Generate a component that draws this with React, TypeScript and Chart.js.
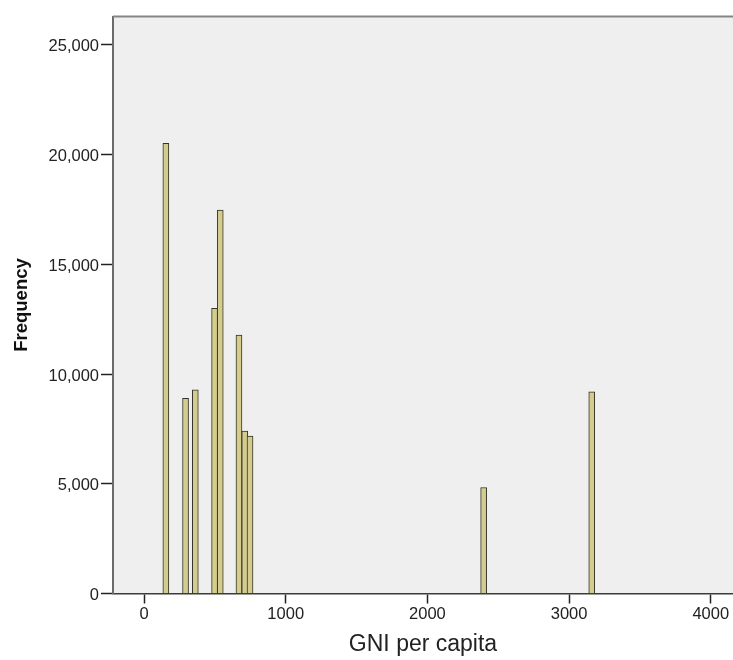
import React, { useEffect, useRef } from "react";
import { Chart, registerables } from "chart.js";

Chart.register(...registerables);

// ---- data ----
const gniCenters = [154, 293, 362, 498, 538, 670, 711, 748, 2397, 3160];
const frequencies = [20510, 8890, 9280, 12990, 17470, 11770, 7400, 7170, 4830, 9190];
const xTickValues = [0, 1000, 2000, 3000, 4000];
const yTickValues = [0, 5000, 10000, 15000, 20000, 25000];
const yTickLabels = ["0", "5,000", "10,000", "15,000", "20,000", "25,000"];
const xTitle = "GNI per capita";
const yTitle = "Frequency";
const xRange = [-219, 4157];
const yRange = [0, 26290];

const FONT = "'Liberation Sans', Arial, sans-serif";

const plotFrame = {
  id: "plotFrame",
  beforeDraw(chart: any) {
    const { ctx, chartArea } = chart;
    ctx.save();
    ctx.fillStyle = "#EFEFEF";
    ctx.fillRect(chartArea.left, chartArea.top, chartArea.right - chartArea.left, chartArea.bottom - chartArea.top);
    ctx.restore();
  },
  afterDraw(chart: any) {
    const { ctx, chartArea } = chart;
    ctx.save();
    ctx.strokeStyle = "#858585";
    ctx.lineWidth = 2;
    ctx.beginPath();
    ctx.moveTo(chartArea.left, chartArea.top);
    ctx.lineTo(chartArea.right, chartArea.top);
    ctx.stroke();
    ctx.restore();
  },
};

export default function App() {
  const canvasRef = useRef<HTMLCanvasElement>(null);

  useEffect(() => {
    if (!canvasRef.current) return;
    const chart = new Chart(canvasRef.current, {
      type: "bar",
      data: {
        datasets: [
          {
            data: gniCenters.map((x, i) => ({ x, y: frequencies[i] })) as any,
            backgroundColor: "#D3CC8E",
            borderColor: "#333328",
            borderWidth: 1,
            barThickness: 6,
            grouped: false,
          } as any,
        ],
      },
      options: {
        animation: false,
        responsive: false,
        devicePixelRatio: 1,
        layout: { padding: { top: 16.5, right: 0, bottom: 0, left: 0 } },
        plugins: { legend: { display: false }, tooltip: { enabled: false } },
        scales: {
          x: {
            type: "linear",
            offset: false,
            min: xRange[0],
            max: xRange[1],
            afterBuildTicks: (axis: any) => {
              axis.ticks = xTickValues.map((v) => ({ value: v }));
            },
            afterFit: (scale: any) => {
              scale.height = 66.5;
            },
            ticks: {
              color: "#222",
              font: { family: FONT, size: 16.5 },
              padding: 1,
              maxRotation: 0,
              callback: (v: any) => String(v),
            },
            grid: {
              display: true,
              offset: false,
              drawOnChartArea: false,
              drawTicks: true,
              tickLength: 10,
              tickColor: "#222",
              tickWidth: 1.5,
            },
            border: { display: true, color: "#3c3c3c", width: 1.5 },
            title: {
              display: true,
              text: xTitle,
              color: "#222",
              font: { family: FONT, size: 23 },
              padding: { top: 0, bottom: 1.2 },
            },
          },
          y: {
            type: "linear",
            min: yRange[0],
            max: yRange[1],
            afterBuildTicks: (axis: any) => {
              axis.ticks = yTickValues.map((v) => ({ value: v }));
            },
            afterFit: (scale: any) => {
              scale.width = 113;
            },
            ticks: {
              color: "#222",
              font: { family: FONT, size: 16.5 },
              padding: 2,
              labelOffset: 2,
              callback: (v: any) => {
                const i = yTickValues.indexOf(Number(v));
                return i >= 0 ? yTickLabels[i] : "";
              },
            },
            grid: {
              display: true,
              drawOnChartArea: false,
              drawTicks: true,
              tickLength: 12,
              tickColor: "#222",
              tickWidth: 1.5,
            },
            border: { display: true, color: "#6b6b6b", width: 2 },
            title: {
              display: true,
              text: yTitle,
              color: "#111",
              font: { family: FONT, size: 18.5, weight: "bold" },
              padding: { top: 10.5, bottom: 0 },
            },
          },
        },
      },
      plugins: [plotFrame],
    });
    return () => chart.destroy();
  }, []);

  return (
    <div style={{ position: "fixed", left: 0, top: 0, width: 733, height: 660, background: "#fff" }}>
      <canvas ref={canvasRef} width={733} height={660} style={{ display: "block", width: 733, height: 660 }} />
    </div>
  );
}
